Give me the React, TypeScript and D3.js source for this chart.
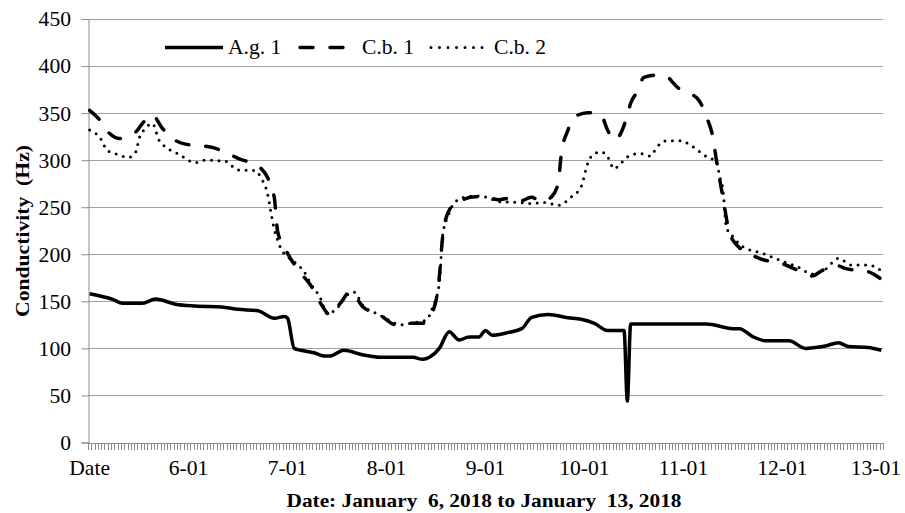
import React, { useEffect, useRef } from 'react';
import * as d3 from 'd3';

const N_CATS = 241;
const tickLabels = ['Date', '6-01', '7-01', '8-01', '9-01', '10-01', '11-01', '12-01', '13-01'];
const labelStep = 30;
const yTicks = [0, 50, 100, 150, 200, 250, 300, 350, 400, 450];

// A.g. 1 (solid)
const agIdx = [0, 7, 10, 16, 20, 26, 32, 40, 45, 51, 56, 59, 60, 62, 64, 68, 71, 73, 77, 83, 88, 98, 101, 103, 106, 109, 112, 115, 118, 120, 122, 127, 131, 134, 139, 145, 149, 153, 157, 162, 163, 164, 175, 187, 195, 197, 201, 205, 212, 217, 220, 223, 227, 230, 236, 240];
const agVal = [158, 152, 148, 148, 152.5, 147, 145, 144, 141.5, 140, 132, 134, 132, 100, 98, 95.4, 92, 92, 98, 93, 90.5, 90.5, 88.4, 90.5, 100, 117.7, 109, 112, 112, 119, 114, 117, 121, 133, 136, 132.6, 131, 126.6, 119, 119, 44, 126, 126, 126, 121, 121, 112.5, 108, 108, 100, 101, 102.5, 106, 102, 101, 98];

// C.b. 1 (dashed)
const cb1Idx = [0, 3, 6, 9, 14, 16, 19, 22, 26, 29, 37, 45, 52, 54, 56, 57, 60, 64, 67, 70, 73, 76, 79, 83, 88, 93, 98, 101, 103, 105, 106, 107, 109, 112, 117, 120, 124, 127, 130, 134, 137, 140, 142, 143, 145, 147, 151, 155, 157, 159, 161, 163, 164, 166, 168, 172, 175, 177, 178, 182, 185, 187, 189, 190, 192, 194, 195, 197, 203, 211, 214, 219, 222, 227, 229, 236, 240];
const cb1Val = [353, 343, 328.5, 323, 330, 339, 348, 334, 321, 317, 313.7, 302, 291, 281, 259.5, 224, 201, 180, 167, 148, 135.5, 148, 160, 143.7, 135.5, 125, 126.7, 126.7, 133.7, 151, 176, 218, 247, 256, 261, 261, 258, 259.5, 256, 260.5, 256, 261, 275, 307, 332, 346, 350.5, 348, 332, 321.5, 328.5, 348, 360.5, 372.7, 388, 390.5, 388.7, 381.7, 378, 371, 362, 346, 323, 300, 260, 222, 215, 207, 195.7, 188.6, 184, 177, 182.6, 187.5, 185, 181.5, 173.4];

// C.b. 2 (dotted)
const cb2Idx = [0, 4, 5, 7, 12, 14, 15, 17, 19, 21, 23, 27, 32, 35, 41, 45, 50, 52, 54, 55, 56, 57, 58, 62, 65, 67, 70, 72, 75, 78, 80, 83, 87, 91, 94, 98, 102, 104, 106, 107, 109, 110, 113, 117, 120, 124, 130, 134, 138, 142, 146, 149, 151, 152, 155, 157, 159, 161, 164, 167, 170, 172, 175, 179, 183, 187, 190, 191, 192, 193, 195, 198, 204, 209, 215, 219, 223, 227, 231, 236, 240];
const cb2Val = [332, 319, 311, 308, 303, 309, 323, 334, 339, 321.5, 314, 306.5, 297.3, 300, 299, 289.5, 289, 281, 263, 243.6, 226, 215, 206, 192, 181.5, 169, 153, 137, 142.6, 156.7, 160, 145, 137, 129.5, 125, 127.3, 130, 144, 169, 220, 243.6, 252, 260, 262, 261, 256, 255, 254, 255, 252, 261, 272, 296.7, 303.7, 309, 303.7, 291, 296.7, 305.5, 307, 304.4, 314, 320.7, 320.7, 314, 303.7, 298.4, 282.4, 268, 229, 218.7, 208, 201, 194, 186, 179, 184, 195.7, 188.6, 188.6, 182.6];

const seriesNames = ['A.g. 1', 'C.b. 1', 'C.b. 2'];

const App = () => {
  const svgRef = useRef<SVGSVGElement | null>(null);

  useEffect(() => {
    const width = 905;
    const height = 513;
    const left = 88, right = 883, top = 19, bottom = 442.5;
    const font = '"Liberation Serif", "Times New Roman", serif';
    const stretch = 1.08; // the source text is a bit wider than plain Times

    const svg = d3.select(svgRef.current);
    svg.selectAll('*').remove();
    svg.attr('width', width).attr('height', height);

    svg.append('rect').attr('width', width).attr('height', height).attr('fill', '#fff');

    const x = d3.scaleBand<number>()
      .domain(d3.range(N_CATS))
      .range([left, right]);
    const bw = x.bandwidth();
    const cx = (i: number) => (x(i) as number) + bw / 2;

    const y = d3.scaleLinear().domain([0, 450]).range([bottom, top]);

    // grid
    svg.append('g')
      .selectAll('line')
      .data(yTicks.filter(d => d > 0))
      .enter()
      .append('line')
      .attr('x1', left)
      .attr('x2', right)
      .attr('y1', d => Math.round(y(d)) + 0.5)
      .attr('y2', d => Math.round(y(d)) + 0.5)
      .attr('stroke', '#a0a0a0')
      .attr('stroke-width', 1);

    // y axis
    const yAxis = svg.append('g')
      .attr('transform', `translate(${left + 0.5},0)`)
      .call(d3.axisLeft(y).tickValues(yTicks).tickSize(7).tickPadding(0).tickFormat(() => ''));
    yAxis.selectAll('path, line').attr('stroke', '#8c8c8c');
    svg.append('g')
      .selectAll('text')
      .data(yTicks)
      .enter()
      .append('text')
      .attr('transform', d => `translate(71,${y(d)}) scale(${stretch},1)`)
      .attr('dy', '0.37em')
      .attr('text-anchor', 'end')
      .attr('font-family', font)
      .attr('font-size', 20)
      .text(d => d);

    // x axis with one tick between each category
    const xg = svg.append('g');
    xg.append('line')
      .attr('x1', left)
      .attr('x2', right)
      .attr('y1', Math.round(bottom) + 0.5)
      .attr('y2', Math.round(bottom) + 0.5)
      .attr('stroke', '#8c8c8c');
    xg.selectAll('line.tick')
      .data(d3.range(N_CATS + 1))
      .enter()
      .append('line')
      .attr('class', 'tick')
      .attr('x1', d => Math.round(left + d * bw) + 0.5)
      .attr('x2', d => Math.round(left + d * bw) + 0.5)
      .attr('y1', Math.round(bottom))
      .attr('y2', Math.round(bottom) + 7)
      .attr('stroke', '#8c8c8c')
      .attr('stroke-width', 1);
    const lastLabel = tickLabels.length - 1;
    xg.selectAll('text')
      .data(tickLabels)
      .enter()
      .append('text')
      .attr('transform', (d, i) => i === lastLabel
        ? `translate(${width - 4},475) scale(${stretch},1)`
        : `translate(${cx(i * labelStep)},475) scale(${stretch},1)`)
      .attr('text-anchor', (d, i) => (i === lastLabel ? 'end' : 'middle'))
      .attr('font-family', font)
      .attr('font-size', 20)
      .text(d => d);

    // series
    const line = (idx: number[]) => d3.line<number>()
      .x((d, i) => cx(idx[i]))
      .y(d => y(d))
      .curve(d3.curveMonotoneX);

    svg.append('path')
      .attr('d', line(agIdx)(agVal))
      .attr('fill', 'none')
      .attr('stroke', '#000')
      .attr('stroke-width', 3.5)
      .attr('stroke-linejoin', 'round');

    svg.append('path')
      .attr('d', line(cb1Idx)(cb1Val))
      .attr('fill', 'none')
      .attr('stroke', '#000')
      .attr('stroke-width', 3.5)
      .attr('stroke-linecap', 'round')
      .attr('stroke-dasharray', '13 17');

    svg.append('path')
      .attr('d', line(cb2Idx)(cb2Val))
      .attr('fill', 'none')
      .attr('stroke', '#000')
      .attr('stroke-width', 3)
      .attr('stroke-linecap', 'round')
      .attr('stroke-dasharray', '0 7.5');

    // legend
    const lg = svg.append('g').attr('font-family', font).attr('font-size', 20);
    const legendItems = [
      { x1: 165, x2: 223, tx: 228, dash: null, w: 3.5 },
      { x1: 300, x2: 345, tx: 362, dash: '13 17', w: 3.5 },
      { x1: 431, x2: 483, tx: 494, dash: '0 8.5', w: 3 }
    ];
    legendItems.forEach((it, i) => {
      lg.append('line')
        .attr('x1', it.x1).attr('x2', it.x2)
        .attr('y1', 47.5).attr('y2', 47.5)
        .attr('stroke', '#000')
        .attr('stroke-width', it.w)
        .attr('stroke-linecap', it.dash ? 'round' : 'butt')
        .attr('stroke-dasharray', it.dash);
      lg.append('text')
        .attr('transform', `translate(${it.tx},54) scale(${stretch},1)`)
        .text(seriesNames[i]);
    });

    // axis titles
    svg.append('text')
      .attr('transform', `translate(29,231) rotate(-90)`)
      .attr('text-anchor', 'middle')
      .attr('font-family', font)
      .attr('font-size', 19)
      .attr('font-weight', 'bold')
      .attr('xml:space', 'preserve')
      .attr('textLength', 172)
      .attr('lengthAdjust', 'spacingAndGlyphs')
      .text('Conductivity  (Hz)');

    svg.append('text')
      .attr('x', 484)
      .attr('y', 507)
      .attr('text-anchor', 'middle')
      .attr('font-family', font)
      .attr('font-size', 19)
      .attr('font-weight', 'bold')
      .attr('xml:space', 'preserve')
      .attr('textLength', 395)
      .attr('lengthAdjust', 'spacingAndGlyphs')
      .text('Date: January  6, 2018 to January  13, 2018');
  }, []);

  return <svg ref={svgRef} style={{ position: 'absolute', left: 0, top: 0 }}></svg>;
};

export default App;
